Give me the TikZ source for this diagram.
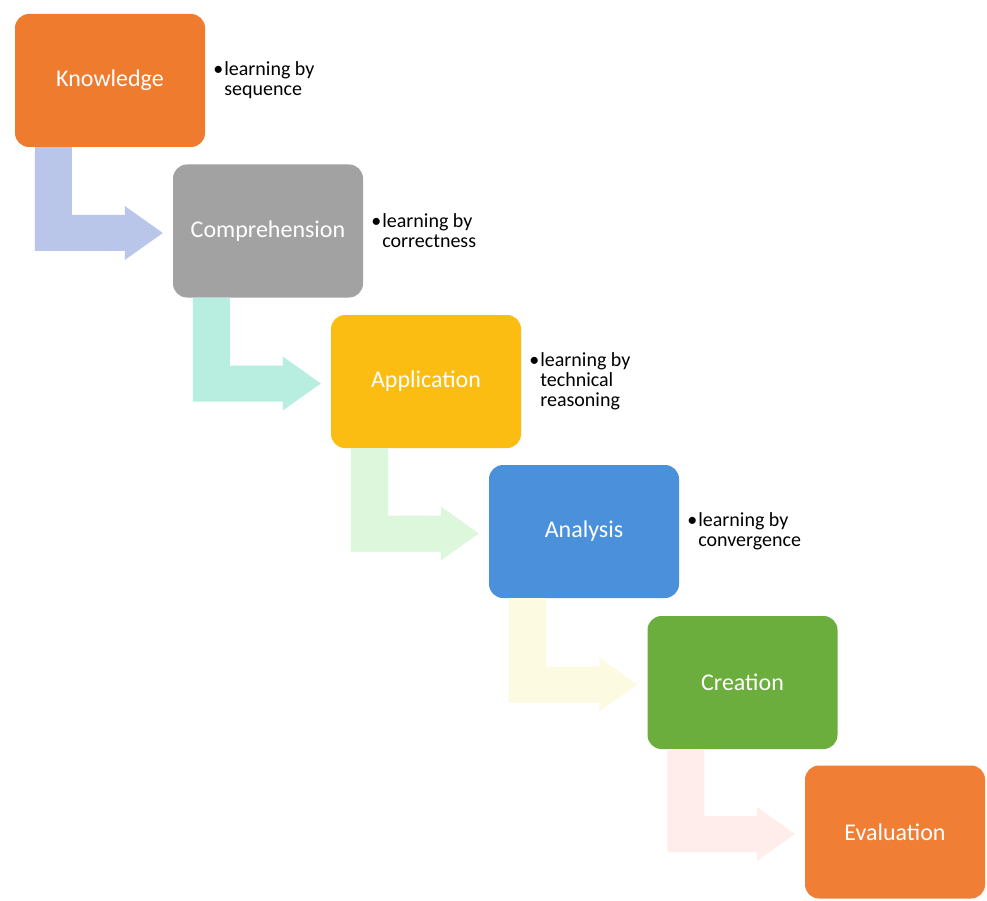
\documentclass[tikz,border=0pt]{standalone}
\usepackage{fontspec}
\setmainfont{Carlito}
\usetikzlibrary{calc}
\definecolor{knowcolor}{HTML}{EF7B2F}
\definecolor{compcolor}{HTML}{A2A2A2}
\definecolor{applcolor}{HTML}{FCBD12}
\definecolor{analcolor}{HTML}{4B90DA}
\definecolor{creacolor}{HTML}{6CAE3E}
\definecolor{evalcolor}{HTML}{F07E34}
\definecolor{arrowA}{HTML}{BAC5EA}
\definecolor{arrowB}{HTML}{B8EEE0}
\definecolor{arrowC}{HTML}{DDF7DC}
\definecolor{arrowD}{HTML}{FCFBE2}
\definecolor{arrowE}{HTML}{FEEDEA}
\begin{document}
\begin{tikzpicture}[x=1pt,y=-1pt,
	stage/.style={rounded corners=14pt, minimum width=190pt, minimum height=133pt,
		inner sep=0pt, text=white, font=\fontsize{24}{28}\selectfont},
	note/.style={anchor=west, align=left, inner sep=0pt, font=\fontsize{20}{20}\selectfont}]
	\newcommand{\bentarrow}[3]{%
		\fill[#3] ($(#1.south west)+(20,0)$) coordinate (s) -- ++(37,0)
			|- ($(#2.west)+(-48,-16)$) -- ++(0,-9) -- ($(#2.west)+(-10,2)$)
			-- ($(#2.west)+(-48,29)$) -- ++(0,-9) -| (s) -- cycle;}
	\newcommand{\bul}{\textbullet\kern1pt}
	\newcommand{\nobul}{\phantom{\textbullet\kern1pt}}

	\fill[white] (0,0) rectangle (987,901);
	\useasboundingbox (0,0) rectangle (987,901);

	\node[stage, fill=knowcolor] (know) at (110,80.5) {Knowledge};
	\node[stage, fill=compcolor] (comp) at (268,231) {Comprehension};
	\node[stage, fill=applcolor] (appl) at (426,381.5) {Application};
	\node[stage, fill=analcolor] (anal) at (584,531.5) {Analysis};
	\node[stage, fill=creacolor] (crea) at (742.5,682.5) {Creation};
	\node[stage, fill=evalcolor, minimum width=180pt] (eval) at (895,832) {Evaluation};

	% bent arrows between the stages
	\bentarrow{know}{comp}{arrowA}
	\bentarrow{comp}{appl}{arrowB}
	\bentarrow{appl}{anal}{arrowC}
	\bentarrow{anal}{crea}{arrowD}
	\bentarrow{crea}{eval}{arrowE}

	\node[note] (knownote) at ($(know.east)+(8,0)$) {\bul learning by\\\nobul sequence};
	\node[note] (compnote) at ($(comp.east)+(8,0)$) {\bul learning by\\\nobul correctness};
	\node[note] (applnote) at ($(appl.east)+(8,0)$) {\bul learning by\\\nobul technical\\\nobul reasoning};
	\node[note] (analnote) at ($(anal.east)+(8,0)$) {\bul learning by\\\nobul convergence};
\end{tikzpicture}
\end{document}
